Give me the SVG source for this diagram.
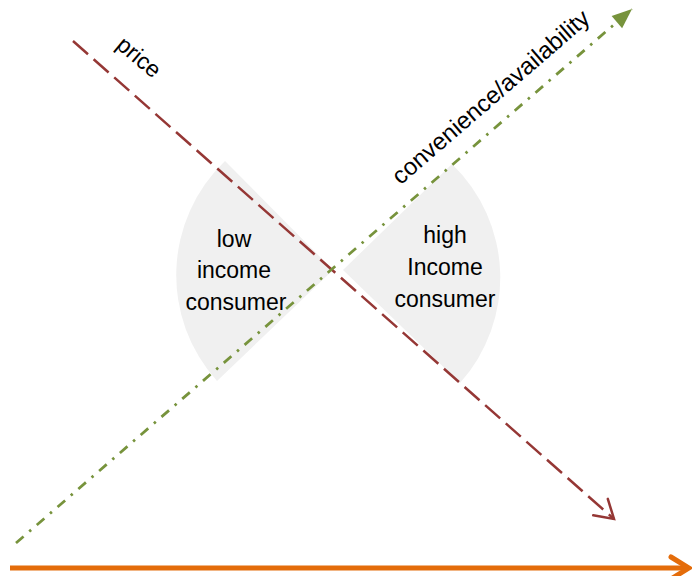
<svg xmlns="http://www.w3.org/2000/svg" width="692" height="576" viewBox="0 0 692 576">
<style>
.lbl{font-family:"Liberation Sans",Arial,sans-serif;font-size:23px;fill:#000;text-anchor:middle}
.wedge{fill:#f0f0f0;stroke:none}
</style>
<defs>
<marker id="arrPrice" markerUnits="userSpaceOnUse" markerWidth="40" markerHeight="40" viewBox="-25 -20 30 40" refX="0" refY="0" orient="auto">
<path d="M-18,-11 L0,0 L-18,11" fill="none" stroke="#953735" stroke-width="2.5" stroke-linecap="round" stroke-linejoin="miter"/>
</marker>
<marker id="arrGreen" markerUnits="userSpaceOnUse" markerWidth="40" markerHeight="40" viewBox="-25 -20 30 40" refX="0" refY="0" orient="auto">
<path d="M-20,-8 L0,0 L-20,8 Z" fill="#77933c"/>
</marker>
<marker id="arrOrange" markerUnits="userSpaceOnUse" markerWidth="40" markerHeight="40" viewBox="-25 -20 30 40" refX="0" refY="0" orient="auto">
<path d="M-18,-11 L0,0 L-18,11" fill="none" stroke="#e46c0a" stroke-width="5" stroke-linecap="round"/>
</marker>
</defs>
<g id="low-income">
<path class="wedge" d="M333,270 L225,161 A158,158 0 0 0 217,381 Z"/>
<text class="lbl" x="234" y="247">low</text>
<text class="lbl" x="234" y="278">income</text>
<text class="lbl" x="236" y="310">consumer</text>
</g>
<g id="high-income">
<path class="wedge" d="M343,270 L452,164 A158,158 0 0 1 460,383 Z"/>
<text class="lbl" x="445" y="243">high</text>
<text class="lbl" x="445" y="275">Income</text>
<text class="lbl" x="445" y="307">consumer</text>
</g>
<g id="connectors">
<line x1="73" y1="41" x2="614" y2="519" stroke="#953735" stroke-width="2.5" stroke-dasharray="20 7.5" marker-end="url(#arrPrice)"/>
<line x1="16" y1="543" x2="632" y2="9" stroke="#77933c" stroke-width="2.75" stroke-dasharray="10 7.5 2.5 7.5" marker-end="url(#arrGreen)"/>
<line x1="10" y1="568" x2="689" y2="568" stroke="#e46c0a" stroke-width="5" marker-end="url(#arrOrange)"/>
</g>
<g id="labels">
<text class="lbl" transform="translate(134,63) rotate(40)">price</text>
<text class="lbl" style="font-size:24px" transform="translate(496,103) rotate(-40.8)">convenience/availability</text>
</g>
</svg>
